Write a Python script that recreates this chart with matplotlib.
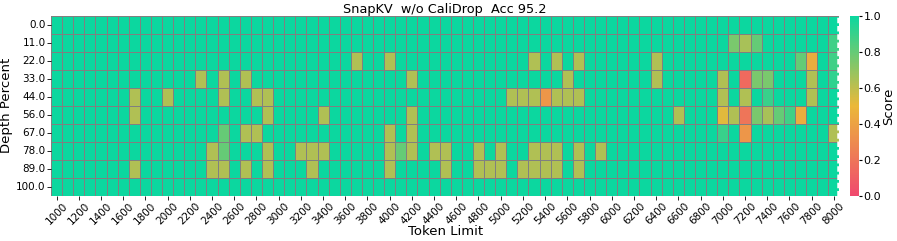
import numpy as np
import pandas as pd
import matplotlib
matplotlib.use("Agg")
import matplotlib.pyplot as plt
import seaborn as sns
from matplotlib.colors import LinearSegmentedColormap

token_limits = list(range(1000, 8001, 100))
depth_percents = [0.0, 11.0, 22.0, 33.0, 44.0, 56.0, 67.0, 78.0, 89.0, 100.0]

O = 0.63  # olive cells
# non-perfect scores: {depth_row_index: {token_limit: score}}
low_scores = {
    1: {7100: 0.75, 7200: 0.65, 7300: 0.8, 8000: 0.88},
    2: {3700: O, 4000: O, 5300: O, 5500: O, 5700: O, 6400: O, 7700: 0.8, 7800: 0.45, 8000: 0.88},
    3: {2300: O, 2500: O, 2700: O, 4200: O, 5600: O, 6400: O, 7000: O, 7200: 0.15,
        7300: 0.75, 7400: 0.75, 7800: O, 8000: 0.92},
    4: {1700: O, 2000: O, 2500: O, 2800: O, 2900: O, 5100: O, 5200: O, 5300: O, 5400: 0.35,
        5500: O, 5600: O, 5700: O, 7000: O, 7200: O, 7400: 0.9, 7800: O},
    5: {1700: O, 2900: O, 3400: O, 4200: O, 6600: O, 7000: 0.52, 7100: O, 7200: 0.2,
        7300: 0.75, 7400: 0.65, 7500: 0.8, 7600: 0.88, 7700: 0.45},
    6: {2500: 0.8, 2700: O, 2800: O, 4000: O, 4200: O, 7000: 0.9, 7200: 0.35, 8000: O},
    7: {2400: O, 2500: 0.8, 2900: O, 3200: O, 3300: O, 3400: O, 4000: O, 4100: 0.8, 4200: O,
        4400: O, 4500: O, 4800: O, 5000: O, 5300: O, 5400: O, 5500: O, 5700: O, 5900: O},
    8: {1700: O, 2400: O, 2500: O, 2700: O, 2900: O, 3300: O, 4000: O, 4500: O, 4800: O,
        4900: O, 5000: O, 5200: O, 5300: O, 5400: O, 5500: O, 5700: O},
}

scores = np.ones((len(depth_percents), len(token_limits)))
for r, d in low_scores.items():
    for t, v in d.items():
        scores[r, token_limits.index(t)] = v

df = pd.DataFrame(scores, index=depth_percents, columns=token_limits)

cmap = LinearSegmentedColormap.from_list("custom", ["#F0496E", "#EBB839", "#0CD79F"])

fig = plt.figure(figsize=(8.97, 2.41), dpi=100)
ax = fig.add_axes([0.0569, 0.188, 0.8788, 0.7456])
cax = fig.add_axes([0.9476, 0.188, 0.0095, 0.7456])

sns.heatmap(df, ax=ax, cbar_ax=cax, cmap=cmap, vmin=0, vmax=1,
            linewidths=0.5, linecolor="grey", xticklabels=2,
            cbar_kws={"label": "Score"})

ax.axvline(x=70.85, color="white", linestyle=(0, (2.2, 1.1)), linewidth=1.8)

ax.set_title("SnapKV  w/o CaliDrop  Acc 95.2", fontsize=9.3, pad=2)
ax.set_xlabel("Token Limit", fontsize=9.5, labelpad=-1)
ax.set_ylabel("Depth Percent", fontsize=9.5, labelpad=2)
ax.set_yticklabels([str(d) for d in depth_percents], rotation=0, fontsize=7.5)
ax.set_xticklabels(ax.get_xticklabels(), rotation=45, fontsize=7.5)
ax.tick_params(length=3, width=0.6, pad=1)

cax.tick_params(labelsize=8, length=2.5, pad=1)
cax.yaxis.label.set_size(9.5)
cax.yaxis.labelpad = 1
cax.set_yticks([0.0, 0.2, 0.4, 0.6, 0.8, 1.0])

fig.savefig("out.png", dpi=100)
